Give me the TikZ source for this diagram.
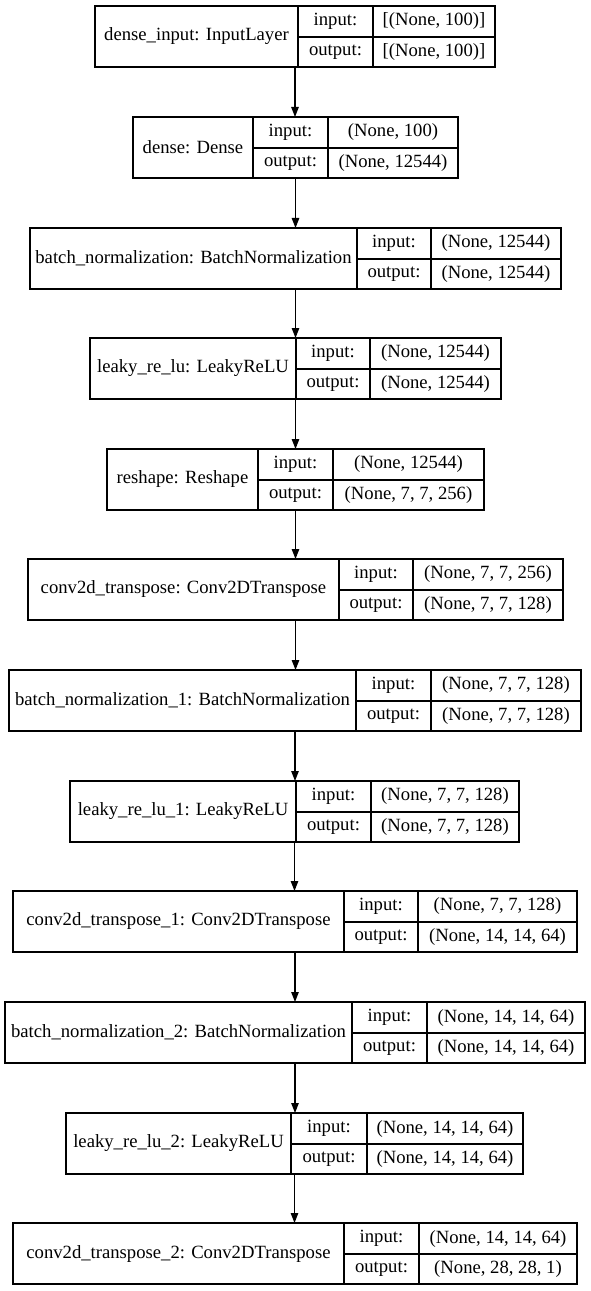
\documentclass[tikz,border=0pt]{standalone}
\usepackage{fontspec}
\setmainfont{Liberation Serif}
\usepackage{tikz}
\usetikzlibrary{arrows.meta}

\tikzset{
  layer/.style={draw,line width=0.9pt,minimum height=61*0.75pt,inner sep=0pt,outer sep=0pt},
  cell/.style={inner sep=0pt},
  flow/.style={line width=0.9pt,-{Triangle[length=7.5pt,width=5.6pt]}}
}

% one record: id, top, left, divider 1, divider 2, right, name, input, output
\newcommand{\layerbox}[9]{%
  \node[layer,minimum width={(#6-#3)*0.75pt}] (#1) at ({(#3+#6)/2},#2+30.5) {};
  \draw[line width=0.9pt] (#4,#2) -- (#4,#2+61);
  \draw[line width=0.9pt] (#5,#2) -- (#5,#2+61);
  \draw[line width=0.9pt] (#4,#2+31) -- (#6,#2+31);
  \node[cell] (#1 name) at ({(#3+#4)/2},#2+30.5) {#7};
  \node[cell] (#1 inl) at ({(#4+#5)/2},#2+15.5) {input:};
  \node[cell] (#1 outl) at ({(#4+#5)/2},#2+46) {output:};
  \node[cell] (#1 in) at ({(#5+#6)/2},#2+15.5) {#8};
  \node[cell] (#1 out) at ({(#5+#6)/2},#2+46) {#9};
}

\begin{document}
\begin{tikzpicture}[x=0.75pt,y=-0.75pt,font=\rmfamily\fontsize{14}{16}\selectfont]
  % page frame
  \useasboundingbox (0,0) rectangle (591,1291);

  % layers
  \layerbox{inp}{6}{95}{298}{373}{495}{dense\_input: InputLayer}{[(None, 100)]}{[(None, 100)]}
  \layerbox{dense}{117}{133}{253}{328}{458}{dense: Dense}{(None, 100)}{(None, 12544)}
  \layerbox{bn}{228}{30}{357}{431}{561}{batch\_normalization: BatchNormalization}{(None, 12544)}{(None, 12544)}
  \layerbox{lrelu}{338}{90}{296}{370}{501}{leaky\_re\_lu: LeakyReLU}{(None, 12544)}{(None, 12544)}
  \layerbox{reshape}{449}{107}{258}{333}{484}{reshape: Reshape}{(None, 12544)}{(None, 7, 7, 256)}
  \layerbox{deconv}{559}{28}{339}{413}{563}{conv2d\_transpose: Conv2DTranspose}{(None, 7, 7, 256)}{(None, 7, 7, 128)}
  \layerbox{bn1}{670}{9}{356}{431}{581}{batch\_normalization\_1: BatchNormalization}{(None, 7, 7, 128)}{(None, 7, 7, 128)}
  \layerbox{lrelu1}{781}{70}{296}{371}{519}{leaky\_re\_lu\_1: LeakyReLU}{(None, 7, 7, 128)}{(None, 7, 7, 128)}
  \layerbox{deconv1}{891}{13}{344}{418}{577}{conv2d\_transpose\_1: Conv2DTranspose}{(None, 7, 7, 128)}{(None, 14, 14, 64)}
  \layerbox{bn2}{1002}{5}{352}{427}{585}{batch\_normalization\_2: BatchNormalization}{(None, 14, 14, 64)}{(None, 14, 14, 64)}
  \layerbox{lrelu2}{1113}{66}{291}{367}{523}{leaky\_re\_lu\_2: LeakyReLU}{(None, 14, 14, 64)}{(None, 14, 14, 64)}
  \layerbox{deconv2}{1223}{13}{344}{419}{577}{conv2d\_transpose\_2: Conv2DTranspose}{(None, 14, 14, 64)}{(None, 28, 28, 1)}

  % arrows
  \foreach \a/\b in {inp/dense,dense/bn,bn/lrelu,lrelu/reshape,reshape/deconv,deconv/bn1,
                     bn1/lrelu1,lrelu1/deconv1,deconv1/bn2,bn2/lrelu2,lrelu2/deconv2}
    \draw[flow] (\a.south) -- (\a.south |- \b.north);
\end{tikzpicture}
\end{document}
